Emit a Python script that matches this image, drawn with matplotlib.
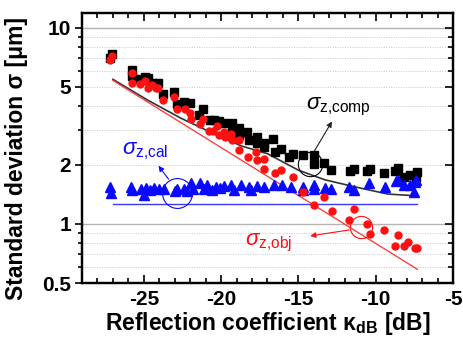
import numpy as np
import matplotlib
matplotlib.use("Agg")
import matplotlib.pyplot as plt
from matplotlib.ticker import FixedLocator, NullFormatter, LogLocator

plt.rcParams['font.family'] = ['Liberation Sans', 'DejaVu Sans']
plt.rcParams['mathtext.fontset'] = 'custom'
plt.rcParams['mathtext.rm'] = 'Liberation Sans'
plt.rcParams['mathtext.it'] = 'Liberation Sans:italic'
plt.rcParams['mathtext.bf'] = 'Liberation Sans:bold'

# --- measured data -------------------------------------------------------
kappa_comp = [-27.2, -27.07, -25.77, -25.77, -25.23, -24.95, -24.73, -24.44, -24.08,
              -23.76, -23.07, -22.85, -22.42, -21.99, -21.4, -21.16,
              -20.73, -20.47, -20.15, -19.82, -19.32, -19.32, -18.85, -18.85,
              -18.31, -18.2, -17.7, -17.7, -17.23, -17.23, -16.62, -16.53, -16.14,
              -15.6, -15.38, -14.73, -14.02, -14.02, -13.33, -12.9,
              -11.64, -11.38, -10.56, -10.34, -9.47, -8.74, -8.56, -8.14, -7.81,
              -7.31, -7.38]
sigma_comp = [7.00, 7.31, 6.06, 5.69, 5.47, 5.61, 5.54, 5.22, 5.26,
              4.61, 4.73, 4.08, 4.21, 4.13, 3.60, 3.86,
              3.39, 3.39, 3.35, 3.26, 3.26, 3.04, 3.10, 2.85,
              2.96, 2.68, 2.79, 2.58, 2.60, 2.48, 2.71, 2.34, 2.40,
              2.20, 2.28, 2.25, 2.25, 2.02, 2.04, 1.89,
              1.87, 1.90, 1.87, 1.90, 1.81, 1.87, 1.92, 1.74, 1.78,
              1.83, 1.74]

kappa_obj = [-27.2, -27.07, -25.77, -25.77, -25.23, -24.95, -24.73, -24.47, -24.21, -24.08,
             -23.76, -23.07, -22.85, -22.36, -21.99, -21.92, -21.34, -21.16,
             -20.8, -20.54, -20.25, -20.15, -19.82, -19.76, -19.39, -19.32,
             -18.85, -18.85, -18.24, -17.77, -17.7, -17.23, -17.23, -16.53, -16.14,
             -15.38, -14.73, -14.02, -13.33, -12.85, -11.71, -11.38, -10.56, -10.34,
             -9.47, -8.74, -8.56, -8.14, -7.88, -7.49, -7.31]
sigma_obj = [6.84, 7.22, 5.87, 5.26, 5.18, 5.38, 4.92, 5.12, 4.92, 4.92,
             4.29, 4.46, 3.86, 3.85, 3.70, 3.42, 3.24, 3.42,
             2.99, 2.99, 3.14, 2.85, 2.96, 2.77, 2.88, 2.68,
             2.68, 2.39, 2.19, 2.34, 2.12, 2.14, 1.90, 1.81, 1.89,
             1.73, 1.46, 1.25, 1.37, 1.16, 1.05, 1.19, 1.00, 0.886,
             0.932, 0.772, 0.879, 0.772, 0.812, 0.752, 0.752]

kappa_cal = [-27.18, -27.14, -25.82, -25.77, -25.17, -24.97, -24.84, -24.63, -24.32, -24.05,
             -23.72, -23.01, -22.85, -22.38, -22.2, -21.92, -21.84, -21.34, -21.08,
             -20.9, -20.58, -20.36, -20.08, -19.82, -19.39, -19.18, -18.74, -18.2, -18.09,
             -17.66, -17.23, -16.58, -16.03, -15.49, -14.73, -14.73, -14.02, -14.02,
             -13.29, -12.9, -11.71, -11.38, -10.41, -9.43, -8.68, -8.56, -8.14, -7.81,
             -7.49, -7.38, -7.53]
sigma_cal = [1.539, 1.444, 1.550, 1.491, 1.503, 1.406, 1.521, 1.491, 1.521, 1.503,
             1.503, 1.479, 1.503, 1.503, 1.479, 1.613, 1.503, 1.613, 1.503,
             1.581, 1.491, 1.539, 1.521, 1.563, 1.581, 1.491, 1.581, 1.550, 1.491,
             1.563, 1.550, 1.581, 1.581, 1.550, 1.550, 1.491, 1.581, 1.503,
             1.521, 1.503, 1.539, 1.491, 1.613, 1.550, 1.660, 1.680, 1.581, 1.581,
             1.644, 1.677, 1.462]

# --- model curves --------------------------------------------------------
kappa_obj_fit = [-27.0, -7.3]
sigma_obj_fit = [5.39, 0.587]

kappa_cal_fit = [-27.0, -7.3]
sigma_cal_fit = [1.265, 1.265]

kappa_comp_fit = [-27.0, -24.8, -22.6, -20.7, -18.7, -17.0, -15.0, -13.3, -11.1, -9.2, -7.3]
sigma_comp_fit = [5.46, 4.30, 3.46, 2.94, 2.50, 2.28, 1.88, 1.68, 1.53, 1.42, 1.39]

x_ticks = [-25, -20, -15, -10, -5]
y_ticks = [0.5, 1, 2, 5, 10]
y_ticklabels = ["0.5", "1", "2", "5", "10"]

BLUE = "#0a0aff"
RED = "#ff1010"
TICK_FS = 15
LABEL_FS = 16.5

fig = plt.figure(figsize=(4.64, 3.49), dpi=100)
ax = fig.add_axes([0.1767, 0.1891, 0.7996, 0.7737])

ax.set_yscale("log")
ax.set_xlim(-29, -5)
ax.set_ylim(0.5, 11.9)

# horizontal grid: solid at decades, dotted elsewhere
for v in [0.6, 0.7, 0.8, 0.9, 2, 3, 4, 5, 6, 7, 8, 9]:
    ax.axhline(v, color="#c8c8c8", lw=0.7, ls=(0, (1, 1.5)), zorder=0)
for v in [1, 10]:
    ax.axhline(v, color="#b4b4b4", lw=1.0, zorder=0)

# model lines
ax.plot(kappa_comp_fit, sigma_comp_fit, color="#333333", lw=1.2, zorder=2)
ax.plot(kappa_obj_fit, sigma_obj_fit, color="#ff4040", lw=1.0, zorder=2)
ax.plot(kappa_cal_fit, sigma_cal_fit, color="#3a3aff", lw=1.0, zorder=2)

# measurements
ax.plot(kappa_comp, sigma_comp, ls="none", marker="s", ms=5.6, color="black", zorder=3)
ax.plot(kappa_obj, sigma_obj, ls="none", marker="o", ms=5.0, color=RED, mec=RED, zorder=4)
ax.plot(kappa_cal, sigma_cal, ls="none", marker="^", ms=6.5, color=BLUE, zorder=3)

# annotation circles
ax.plot([-14.28], [2.03], marker="o", ms=17.5, mfc="none", mec="black", mew=0.8, zorder=5)
ax.plot([-22.85], [1.434], marker="o", ms=21.5, mfc="none", mec=BLUE, mew=0.8, zorder=5)
ax.plot([-10.98], [0.965], marker="o", ms=16, mfc="none", mec=RED, mew=0.8, zorder=5)

arrow_kw = dict(arrowstyle="-|>", lw=0.8, mutation_scale=8, shrinkA=0, shrinkB=0)
ax.annotate("", xy=(-12.83, 3.33), xytext=(-14.0, 2.33),
            arrowprops=dict(color="#222222", **arrow_kw), zorder=6)
ax.annotate("", xy=(-24.05, 1.98), xytext=(-23.4, 1.69),
            arrowprops=dict(color=BLUE, **arrow_kw), zorder=6)
ax.annotate("", xy=(-14.24, 0.869), xytext=(-11.71, 0.932),
            arrowprops=dict(color=RED, **arrow_kw), zorder=6)

ax.text(-14.52, 3.82, r"$\sigma_{\mathrm{z{,}comp}}$", fontsize=16, color="black", va="baseline")
ax.text(-26.40, 2.25, r"$\sigma_{\mathrm{z{,}cal}}$", fontsize=16, color=BLUE, va="baseline")
ax.text(-18.48, 0.781, r"$\sigma_{\mathrm{z{,}obj}}$", fontsize=16, color=RED, va="baseline")

# ticks
ax.xaxis.set_major_locator(FixedLocator(x_ticks))
ax.xaxis.set_minor_locator(FixedLocator(np.arange(-28, -5, 1)))
ax.set_xticklabels([str(t) for t in x_ticks], fontsize=TICK_FS, fontweight="bold")
ax.tick_params(axis="x", which="both", direction="in", top=True, bottom=True, width=1.2)
ax.tick_params(axis="x", which="major", length=6, pad=5)
ax.tick_params(axis="x", which="minor", length=3.5)

ax.yaxis.set_major_locator(FixedLocator(y_ticks))
ax.yaxis.set_minor_locator(LogLocator(base=10, subs=np.arange(2, 10)))
ax.yaxis.set_minor_formatter(NullFormatter())
ax.set_yticklabels(y_ticklabels, fontsize=TICK_FS, fontweight="bold")
ax.tick_params(axis="y", which="both", direction="out", left=True, right=False, width=1.2)
ax.tick_params(axis="y", which="major", length=5, pad=3)
ax.tick_params(axis="y", which="minor", length=3)

ax2 = ax.twinx()
ax2.set_yscale("log")
ax2.set_ylim(ax.get_ylim())
ax2.yaxis.set_major_locator(FixedLocator(y_ticks))
ax2.yaxis.set_minor_locator(LogLocator(base=10, subs=np.arange(2, 10)))
ax2.yaxis.set_major_formatter(NullFormatter())
ax2.yaxis.set_minor_formatter(NullFormatter())
ax2.tick_params(axis="y", which="both", direction="in", width=1.2)
ax2.tick_params(axis="y", which="major", length=6)
ax2.tick_params(axis="y", which="minor", length=3.5)

for a in (ax, ax2):
    for s in a.spines.values():
        s.set_linewidth(1.6)

ax.set_xlabel(r"Reflection coefficient κ$_{\mathbf{dB}}$ [dB]", fontsize=LABEL_FS,
              fontweight="bold", labelpad=1)
ax.set_ylabel("Standard deviation σ [μm]", fontsize=LABEL_FS, fontweight="bold")
ax.yaxis.set_label_coords(-0.145, 0.46)

fig.savefig("out.png", dpi=100)
